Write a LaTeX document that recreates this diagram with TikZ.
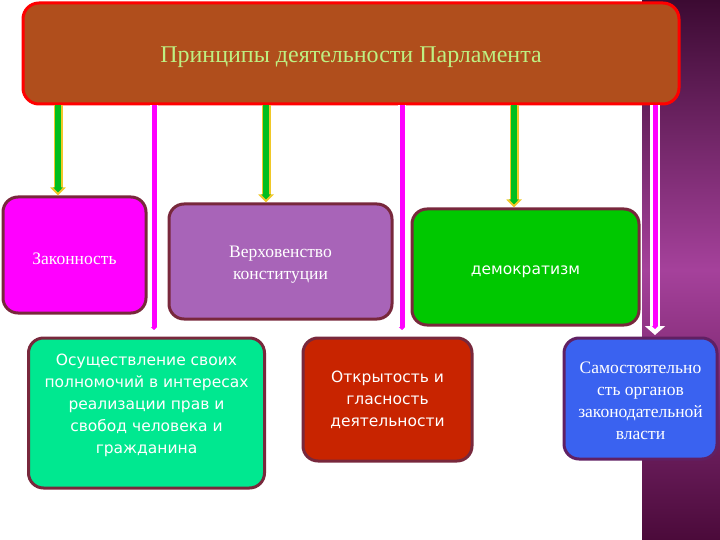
\documentclass[tikz,border=0pt]{standalone}
\usepackage{fontspec}
\setmainfont{Liberation Serif}
\newfontfamily\sansf{DejaVu Sans}
\usetikzlibrary{arrows.meta}
\definecolor{topfill}{RGB}{176,78,28}
\definecolor{titlec}{RGB}{190,240,130}
\definecolor{redb}{RGB}{255,0,0}
\definecolor{maroon}{RGB}{120,40,60}
\definecolor{magc}{RGB}{255,0,255}
\definecolor{purpc}{RGB}{168,100,184}
\definecolor{greenc}{RGB}{0,200,0}
\definecolor{springc}{RGB}{0,232,144}
\definecolor{redc}{RGB}{200,36,0}
\definecolor{bluec}{RGB}{58,98,240}
\definecolor{yelc}{RGB}{240,200,40}
\definecolor{argreen}{RGB}{0,190,30}
\definecolor{bgdark}{RGB}{60,10,50}
\definecolor{bgmid}{RGB}{165,65,155}
\definecolor{bgdark2}{RGB}{75,10,58}
\newcommand{\lowr}[2]{\raisebox{-#1}[\height][\depth]{#2}}
\tikzset{
  box/.style={draw=maroon, line width=3pt, rounded corners=15pt, text=white, align=center, inner sep=4pt},
  serifbox/.style={box, font=\fontsize{17.5}{22}\selectfont},
  sansbox/.style={box, font=\sansf\fontsize{15.5}{22}\selectfont},
  garrow/.style={draw=yelc, line width=9pt, -{Triangle[width=15pt,length=8pt]},
     postaction={draw=argreen, line width=6pt, shorten >=3pt, -{Triangle[width=9pt,length=5pt]}}},
  mline/.style={draw=white, line width=8pt, -{Triangle[width=9pt,length=4pt]},
     postaction={draw=magc, line width=5pt, shorten >=1pt, -{Triangle[width=6pt,length=3pt]}}},
  warrow/.style={draw=white, line width=10pt, -{Triangle[width=20pt,length=9pt]},
     postaction={draw=magc, line width=5pt, shorten >=6pt, -{Triangle[width=6pt,length=3pt]}}}
}
\begin{document}
\begin{tikzpicture}[x=1pt,y=-1pt]
\useasboundingbox (0,0) rectangle (720,540);
\fill[white] (0,0) rectangle (720,540);
\shade[top color=bgdark, bottom color=bgdark2, middle color=bgmid] (642,0) rectangle (720,540);

\node[draw=redb, fill=topfill, line width=3pt, rounded corners=16pt, minimum width=656pt, minimum height=101pt,
      text=titlec, font=\fontsize{24}{26}\selectfont] (top) at (351,53.5) {\lowr{4pt}{Принципы деятельности Парламента}};

\node[serifbox, fill=magc, minimum width=143pt, minimum height=116pt] (zak) at (74.5,255) {\lowr{4pt}{Законность}};
\node[serifbox, fill=purpc, minimum width=223pt, minimum height=115pt] (ver) at (280.5,261.5)
  {\lowr{3pt}{\parbox{200pt}{\centering Верховенство\\конституции}}};
\node[sansbox, fill=greenc, minimum width=227pt, minimum height=116pt] (dem) at (525.5,267) {\lowr{5pt}{демократизм}};
\node[sansbox, fill=springc, minimum width=235pt, minimum height=150pt] (osu) at (146.5,413)
  {\raisebox{8pt}[\height][\depth]{\parbox{228pt}{\centering Осуществление своих\\полномочий в интересах\\реализации прав и\\свобод человека и\\гражданина}}};
\node[sansbox, fill=redc, minimum width=169pt, minimum height=123pt] (otk) at (387.5,399.5) {Открытость и\\гласность\\деятельности};
\node[serifbox, fill=bluec, draw=maroon!80!blue, minimum width=153pt, minimum height=121pt] (sam) at (640.5,398.5)
  {\lowr{2pt}{\parbox{138pt}{\centering Самостоятельно\\сть органов\\законодательной\\власти}}};

\coordinate (a1) at (58,0);
\coordinate (a2) at (266,0);
\coordinate (a3) at (514,0);
\coordinate (m1) at (154,331);
\coordinate (m2) at (402,331);
\coordinate (m3) at (655,335);

\draw[mline] (top.south -| m1) -- (m1);
\draw[mline] (top.south -| m2) -- (m2);
\draw[warrow] (top.south -| m3) -- (m3);
\draw[garrow] (top.south -| a1) -- (a1 |- zak.north);
\draw[garrow] (top.south -| a2) -- (a2 |- ver.north);
\draw[garrow] (top.south -| a3) -- (a3 |- dem.north);
\end{tikzpicture}
\end{document}
